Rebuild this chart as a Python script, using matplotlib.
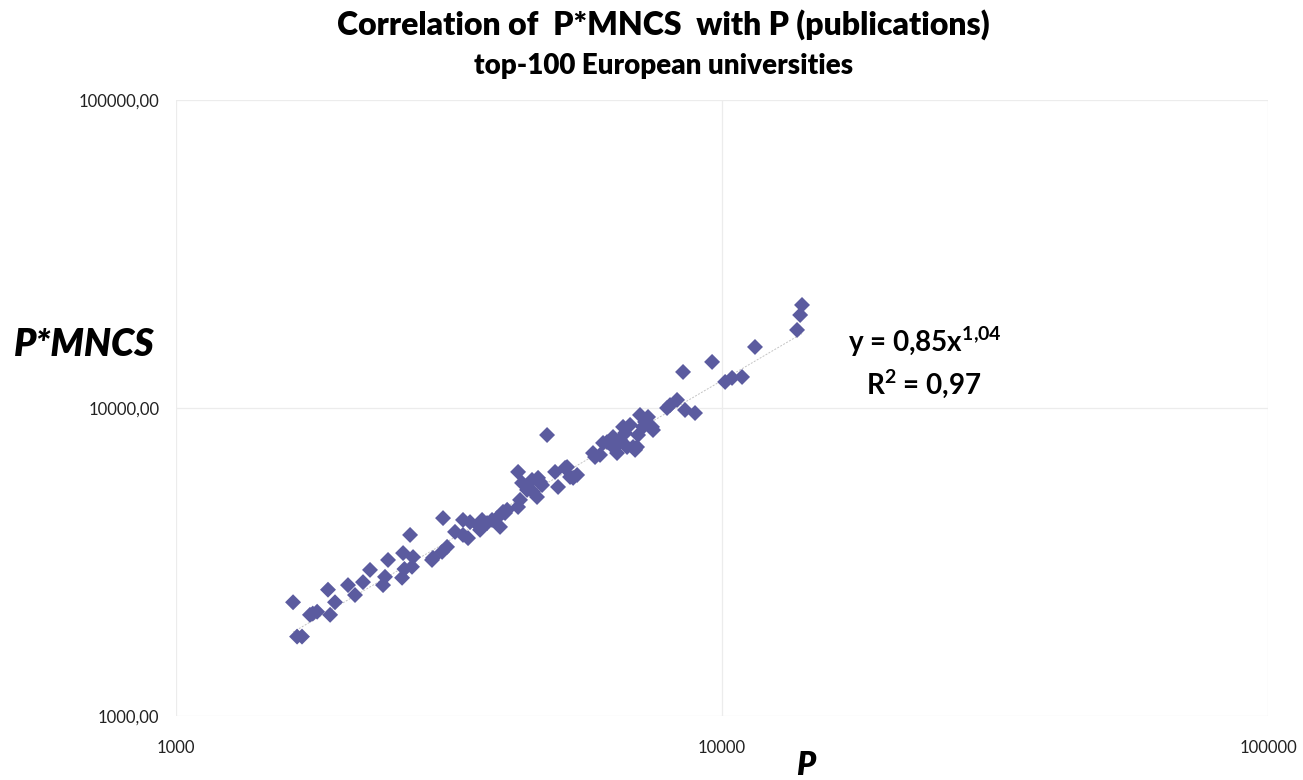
import matplotlib
matplotlib.use('Agg')
import matplotlib.pyplot as plt
import numpy as np
from matplotlib.ticker import FixedLocator, FixedFormatter, NullLocator

# P (publications) and P*MNCS for the top-100 European universities
pubs = [1638, 1666, 1701, 1759, 1813, 1898, 1955, 1915, 2065, 2127,
        2200, 2266, 2414, 2394, 2445, 2594, 2605, 2717, 2705, 2683,
        2956, 3071, 3136, 3083, 3243, 3354, 3455, 3426, 3604, 3712,
        3872, 4005, 3921, 3354, 3573, 3791, 3971, 4231, 4266, 4231,
        4394, 4487, 4603, 4583, 4681, 4945, 5202, 5008, 5336, 5427,
        4781, 5853, 5978, 6157, 6315, 6504, 6643, 6699, 6930, 7018,
        7167, 7319, 7474, 7930, 5803, 6315, 6422, 6871, 6785, 8031,
        8271, 8554, 8923, 8483, 9588, 10130, 10430, 10880, 11490, 13720,
        13900, 14010, 2943, 3635, 4040, 3604, 4302, 4642, 4506, 5159,
        5268, 6054, 6422, 6587, 7075, 7228, 7443, 6988, 1780, 2620]
pmncs = [2340, 1810, 1810, 2130, 2180, 2570, 2340, 2130, 2660, 2470,
         2720, 2980, 2830, 2660, 3210, 2810, 3380, 3280, 3050, 3870,
         3260, 3410, 3540, 4390, 3960, 4330, 4260, 3780, 4110, 4230,
         4390, 4560, 4110, 3870, 4170, 4330, 4600, 4770, 5030, 6200,
         5420, 5840, 5930, 5140, 5620, 6200, 6430, 5540, 5930, 6060,
         8170, 6930, 7040, 7750, 7470, 7870, 8290, 7470, 7310, 8170,
         8680, 9350, 8480, 10000, 7140, 8050, 7580, 7470, 8810, 10220,
         10620, 9850, 9630, 13090, 14110, 12150, 12520, 12610, 15780, 17920,
         20040, 21600, 3210, 4330, 4670, 4020, 5710, 5750, 5340, 6390,
         5970, 7700, 7140, 8680, 9490, 9010, 8680, 7470, 2150, 3000]

# power trendline y = a * x^b
fit_a = 0.85
fit_b = 1.04
fit_r2 = 0.97

x_ticks = [1000, 10000, 100000]
x_ticklabels = ['1000', '10000', '100000']
y_ticks = [1000, 10000, 100000]
y_ticklabels = ['1000,00', '10000,00', '100000,00']

plt.rcParams['font.family'] = ['Lato', 'DejaVu Sans']
plt.rcParams['mathtext.fontset'] = 'custom'
plt.rcParams['mathtext.rm'] = 'Lato:bold'
plt.rcParams['mathtext.bf'] = 'Lato:bold'

fig = plt.figure(figsize=(13.03, 7.80), dpi=100)
ax = fig.add_axes([0.1351, 0.0821, 0.8381, 0.7897])

ax.set_xscale('log')
ax.set_yscale('log')
ax.set_xlim(1000, 100000)
ax.set_ylim(1000, 100000)

# trendline over the data range
xf = np.linspace(min(pubs), max(pubs), 200)
ax.plot(xf, fit_a * xf ** fit_b, color='#c4c4c4', linewidth=0.7,
        linestyle=(0, (2, 1.5)), zorder=2)

ax.scatter(pubs, pmncs, marker='D', s=66, color='#5b5b9f',
           edgecolors='none', zorder=3)

ax.xaxis.set_major_locator(FixedLocator(x_ticks))
ax.xaxis.set_major_formatter(FixedFormatter(x_ticklabels))
ax.yaxis.set_major_locator(FixedLocator(y_ticks))
ax.yaxis.set_major_formatter(FixedFormatter(y_ticklabels))
ax.xaxis.set_minor_locator(NullLocator())
ax.yaxis.set_minor_locator(NullLocator())
ax.tick_params(axis='x', length=0, pad=17, labelsize=12, colors='#222222')
ax.tick_params(axis='y', length=0, pad=12, labelsize=12, colors='#222222')

for s in ax.spines.values():
    s.set_visible(False)
ax.grid(True, color='#ececec', linewidth=0.9)
ax.set_axisbelow(True)

fig.text(0.509, 0.968, 'Correlation of  P*MNCS  with P (publications)',
         ha='center', va='center', fontsize=23, fontweight='heavy')
fig.text(0.509, 0.915, 'top-100 European universities',
         ha='center', va='center', fontsize=20, fontweight='heavy')

fig.text(0.065, 0.558, 'P*MNCS', ha='center', va='center', fontsize=27,
         fontweight='heavy', fontstyle='italic')
fig.text(0.618, 0.006, 'P', ha='center', va='baseline', fontsize=23,
         fontweight='heavy', fontstyle='italic')

ax.text(0.71, 0.562, r'y = 0,85x$^{\mathrm{1{,}04}}$', transform=fig.transFigure,
        ha='center', va='center', fontsize=20, fontweight='bold')
ax.text(0.709, 0.507, r'R$^{\mathrm{2}}$ = 0,97', transform=fig.transFigure,
        ha='center', va='center', fontsize=20, fontweight='bold')

fig.savefig('out.png', dpi=100)
